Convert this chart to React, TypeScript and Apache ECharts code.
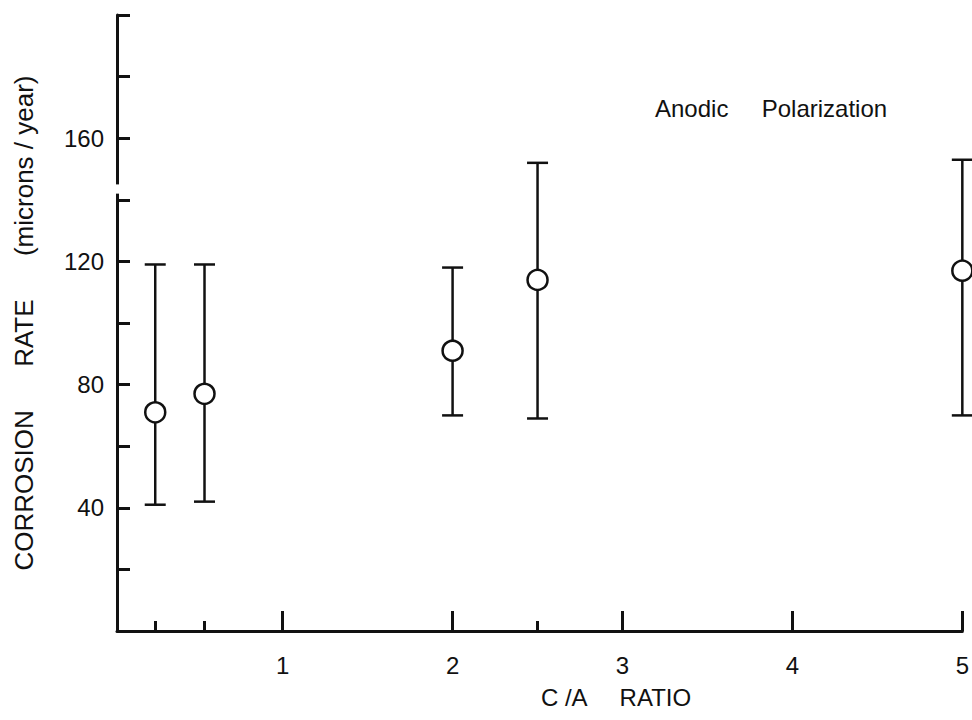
import React, { useEffect, useRef } from "react";
import * as echarts from "echarts";

// C/A ratio of each specimen group
const ratios = [0.25, 0.54, 2, 2.5, 5];
// Corrosion rate (microns / year): mean and error-bar limits
const meanRate = [71, 77, 91, 114, 117];
const upperRate = [119, 119, 118, 152, 153];
const lowerRate = [41, 42, 70, 69, 70];
// Axis ticks / labels
const xMajorTicks = [1, 2, 3, 4, 5];
const xMinorTicks = [0.25, 0.54, 2.5];
const yLabelValues = [40, 80, 120, 160];
const yBreak = [142, 145];

const yTitle = "CORROSION      RATE      (microns / year)";
const xTitle = "C /A     RATIO";
const annotation = "Anodic     Polarization";

export default function App() {
  const ref = useRef<HTMLDivElement>(null);
  useEffect(() => {
    const chart = echarts.init(ref.current!, null, { renderer: "svg" });
    const ink = "#111";
    const font = "'Liberation Sans', Arial, Helvetica, sans-serif";
    const xMin = 0.025;
    const xMax = 5;
    chart.setOption({
      animation: false,
      backgroundColor: "#fff",
      grid: { left: 117, right: 8, top: 15, bottom: 89, containLabel: false },
      xAxis: [
        {
          type: "value",
          min: xMin,
          max: xMax,
          position: "bottom",
          axisLine: { onZero: false, lineStyle: { color: ink, width: 3 } },
          axisTick: { inside: true, length: 20, customValues: xMajorTicks, lineStyle: { color: ink, width: 3 } },
          axisLabel: { customValues: xMajorTicks, color: ink, fontSize: 24, fontFamily: font, margin: 22 },
          splitLine: { show: false },
        },
        {
          type: "value",
          min: xMin,
          max: xMax,
          position: "bottom",
          axisLine: { show: false, onZero: false },
          axisTick: { inside: true, length: 10, customValues: xMinorTicks, lineStyle: { color: ink, width: 3 } },
          axisLabel: { show: false },
          splitLine: { show: false },
        },
      ],
      yAxis: {
        type: "value",
        min: 0,
        max: 200,
        interval: 20,
        name: yTitle,
        nameLocation: "middle",
        nameGap: 80,
        nameTextStyle: { color: ink, fontSize: 26, fontFamily: font },
        axisLine: { onZero: false, lineStyle: { color: ink, width: 3 } },
        axisTick: { inside: true, length: 13, lineStyle: { color: ink, width: 3 } },
        axisLabel: { customValues: yLabelValues, color: ink, fontSize: 24, fontFamily: font, margin: 13 },
        splitLine: { show: false },
      },
      series: [
        {
          type: "custom",
          xAxisIndex: 0,
          data: ratios.map((x, i) => [x, lowerRate[i], upperRate[i]]),
          encode: { x: 0, y: [1, 2] },
          clip: false,
          z: 2,
          renderItem: (params: any, api: any) => {
            const lo = api.coord([api.value(0), api.value(1)]);
            const hi = api.coord([api.value(0), api.value(2)]);
            const w = 10.5;
            const style = { stroke: ink, lineWidth: 2.5 };
            return {
              type: "group",
              children: [
                { type: "line", shape: { x1: lo[0], y1: lo[1], x2: hi[0], y2: hi[1] }, style },
                { type: "line", shape: { x1: hi[0] - w, y1: hi[1], x2: hi[0] + w, y2: hi[1] }, style },
                { type: "line", shape: { x1: lo[0] - w, y1: lo[1], x2: lo[0] + w, y2: lo[1] }, style },
              ],
            };
          },
        },
        {
          type: "scatter",
          xAxisIndex: 0,
          data: ratios.map((x, i) => [x, meanRate[i]]),
          symbol: "circle",
          symbolSize: 20,
          clip: false,
          z: 3,
          itemStyle: { color: "#fff", borderColor: ink, borderWidth: 2.5, opacity: 1 },
        },
      ],
    });

    const axisX = chart.convertToPixel({ xAxisIndex: 0 }, xMin) as number;
    const yTop = chart.convertToPixel({ yAxisIndex: 0 }, yBreak[1]) as number;
    const yBot = chart.convertToPixel({ yAxisIndex: 0 }, yBreak[0]) as number;

    chart.setOption({
      graphic: [
        {
          type: "rect",
          z: 100,
          shape: { x: axisX - 6, y: yTop, width: 12, height: yBot - yTop },
          style: { fill: "#fff" },
        },
        {
          type: "text",
          z: 100,
          x: 655,
          y: 108,
          style: { text: annotation, fill: ink, fontSize: 24, fontFamily: font, textAlign: "left", textVerticalAlign: "middle" },
        },
        {
          type: "text",
          z: 100,
          x: 616,
          y: 697,
          style: { text: xTitle, fill: ink, fontSize: 24, fontFamily: font, textAlign: "center", textVerticalAlign: "middle" },
        },
      ],
    });

    return () => chart.dispose();
  }, []);
  return (
    <div
      ref={ref}
      style={{ position: "fixed", left: 0, top: 0, width: 972, height: 720, background: "#fff" }}
    />
  );
}
